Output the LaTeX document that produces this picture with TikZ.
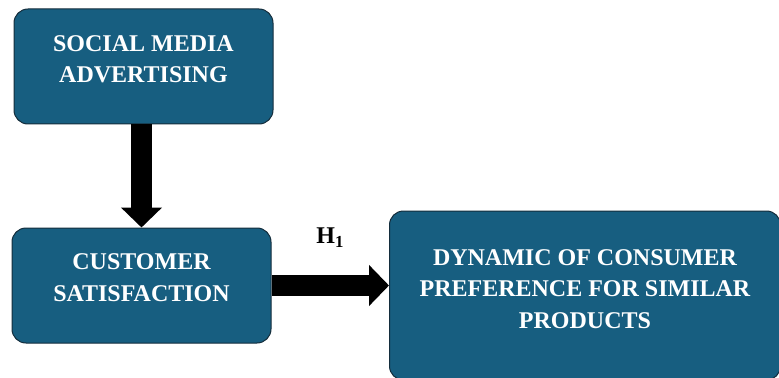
\documentclass[tikz,border=0pt]{standalone}
\usepackage{fontspec}
\setmainfont{Liberation Serif}
\usetikzlibrary{arrows.meta}

\definecolor{boxblue}{RGB}{23,94,128}
\definecolor{boxedge}{RGB}{20,45,60}

\tikzset{every picture/.style={line width=0.75pt}}
\tikzset{
  varbox/.style={draw=boxedge, fill=boxblue, rounded corners=10.5pt, text=white,
    font=\fontsize{18}{23.5}\selectfont\bfseries, align=center, inner sep=0pt},
  bigarrow/.style={line width=15.75pt, -{Triangle[width=30pt,length=15pt]}}
}

\begin{document}
\begin{tikzpicture}[x=0.75pt,y=0.75pt,yscale=-1]

\useasboundingbox (0,0) rectangle (779,378);

\node [varbox, minimum width=194.25pt, minimum height=86.25pt, text depth=11pt] (sma) at (143.5,66.5) {SOCIAL MEDIA\\ADVERTISING};
\node [varbox, minimum width=194.25pt, minimum height=86.25pt, text depth=12pt] (cs) at (141.5,285.5) {CUSTOMER\\SATISFACTION};
\node [varbox, minimum width=293.25pt, minimum height=126.75pt, text depth=10pt] (dcp) at (585,295.5) {DYNAMIC OF CONSUMER\\PREFERENCE FOR SIMILAR\\PRODUCTS};

\draw [bigarrow] (cs.north |- sma.south) -- (cs.north);
\draw [bigarrow] (cs.east) -- (cs.east -| dcp.west) node [midway, above=21pt, inner sep=0pt, font=\fontsize{18}{20}\selectfont\bfseries] (h1) {H\textsubscript{1}};

\end{tikzpicture}
\end{document}
